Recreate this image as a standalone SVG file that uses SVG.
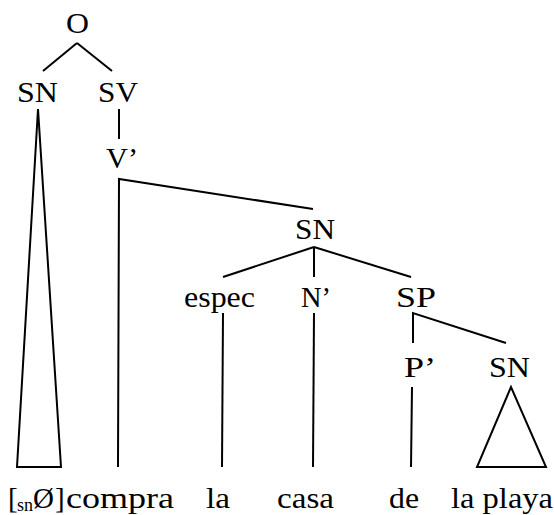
<svg xmlns="http://www.w3.org/2000/svg" width="554" height="515" viewBox="0 0 554 515">
<style>
text{font-family:"Liberation Serif","Times New Roman",serif;font-size:29px;fill:#000}
.sub{font-size:18px}
line,polygon,polyline{stroke:#000;stroke-width:2;fill:none}
</style>
<rect width="554" height="515" fill="#fff"/>
<g id="connectors">
<line x1="77" y1="43" x2="43" y2="71"/>
<line x1="77" y1="43" x2="112" y2="71"/>
<polygon points="38,109 17,467 61,467"/>
<line x1="119" y1="109" x2="119" y2="139"/>
<polyline points="118,467 119,179 313,209"/>
<line x1="314" y1="247" x2="223" y2="277"/>
<line x1="314" y1="247" x2="314" y2="277"/>
<line x1="314" y1="247" x2="411" y2="277"/>
<line x1="223" y1="313" x2="222" y2="467"/>
<line x1="314" y1="313" x2="313" y2="467"/>
<polyline points="413,343 413,313 506,343"/>
<line x1="412" y1="387" x2="411" y2="467"/>
<polygon points="511,387 477,467 546,467"/>
</g>
<g id="n-O"><text x="66" y="33" textLength="23" lengthAdjust="spacingAndGlyphs">O</text></g>
<g id="n-SN1"><text x="17" y="102" textLength="41" lengthAdjust="spacingAndGlyphs">SN</text></g>
<g id="n-SV"><text x="98" y="102" textLength="40" lengthAdjust="spacingAndGlyphs">SV</text></g>
<g id="n-V"><text x="106" y="168" textLength="32" lengthAdjust="spacingAndGlyphs">V’</text></g>
<g id="n-SN2"><text x="295" y="239" textLength="40" lengthAdjust="spacingAndGlyphs">SN</text></g>
<g id="n-espec"><text x="184" y="307" textLength="71" lengthAdjust="spacingAndGlyphs">espec</text></g>
<g id="n-N"><text x="301" y="307" textLength="30" lengthAdjust="spacingAndGlyphs">N’</text></g>
<g id="n-SP"><text x="396" y="307" textLength="40" lengthAdjust="spacingAndGlyphs">SP</text></g>
<g id="n-P"><text x="404" y="377" textLength="32" lengthAdjust="spacingAndGlyphs">P’</text></g>
<g id="n-SN3"><text x="489" y="377" textLength="41" lengthAdjust="spacingAndGlyphs">SN</text></g>
<g id="w-0"><text y="508"><tspan x="8">[</tspan><tspan class="sub" x="17" y="511">sn</tspan><tspan x="33" y="508">Ø</tspan><tspan x="55">]</tspan></text></g>
<g id="w-compra"><text x="66" y="508" textLength="108" lengthAdjust="spacingAndGlyphs">compra</text></g>
<g id="w-la"><text x="206" y="508" textLength="24" lengthAdjust="spacingAndGlyphs">la</text></g>
<g id="w-casa"><text x="277" y="508" textLength="57" lengthAdjust="spacingAndGlyphs">casa</text></g>
<g id="w-de"><text x="389" y="508" textLength="30" lengthAdjust="spacingAndGlyphs">de</text></g>
<g id="w-laplaya"><text x="451" y="508" textLength="102" lengthAdjust="spacingAndGlyphs">la playa</text></g>
</svg>
